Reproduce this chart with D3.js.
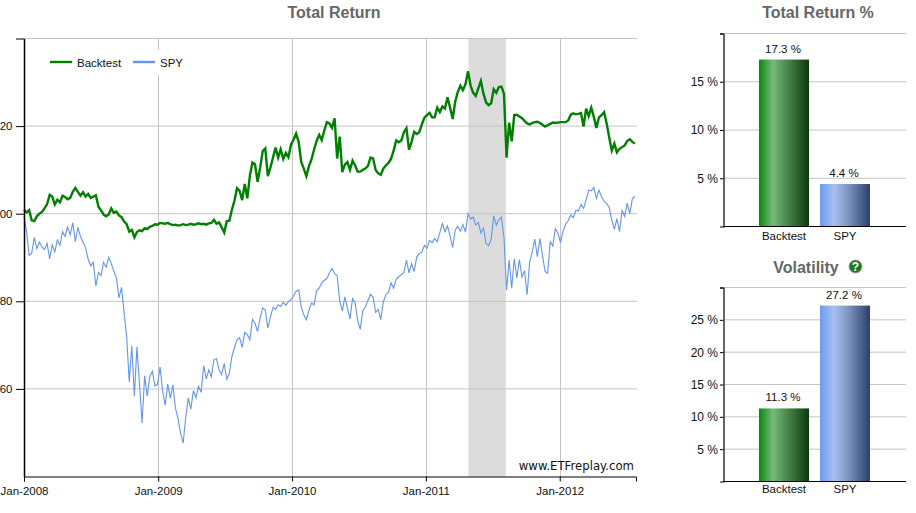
<!DOCTYPE html>
<html>
<head>
<meta charset="utf-8">
<script src="https://cdn.jsdelivr.net/npm/d3@7"></script>
<style>
    html, body { margin: 0; padding: 0; background: #fff; overflow: hidden; }
    text { font-family: "Liberation Sans", Arial, sans-serif; font-size: 11.5px; fill: #111; }
    .title { font-size: 16px; font-weight: bold; fill: #666; }
</style>
</head>
<body>
<div class="chart"></div>
<script>
// Weekly values from 2008-01-01 (10 per row)
const backtestValues = [
    100.9,100.3,100.8,98.5,98.3,99.4,100,100.4,101.2,102.2,
    104.3,103.9,102.1,103.2,102.6,104.1,103.8,103.3,103.6,105,
    105.9,105,104.1,104.9,103.9,104.5,103.6,103.9,104.2,101.6,
    100.8,99.8,99.4,99.8,101.2,100.2,100.5,99.6,99.2,98.2,
    97.6,95.9,96.3,94.6,95.8,96.2,96,96.7,96.5,97,
    97.2,97.6,97.5,97.9,97.8,97.7,97.9,97.6,97.4,97.5,
    97.3,97.4,97.6,97.4,97.5,97.7,97.5,97.6,97.8,97.6,
    97.7,97.5,97.8,97.9,98.6,97.7,98,96.9,95.7,98.3,
    98.4,100.9,103,105.8,105.2,103.1,106.8,103.5,108.7,111.7,
    111.3,107.3,110.5,114.3,114.9,108.6,110.5,112.8,115.1,112.8,
    114.7,112.5,113.9,112.9,115.7,116.9,118.3,116.4,111.8,110.3,
    108.6,110.8,112.4,114.6,116.6,118,116.8,119,120.9,120.6,
    119.6,121.8,112.6,117.6,109.5,111.2,111.8,110,112.1,111,
    109.6,109.6,110,110.3,110.9,112.8,112.6,110,109.2,108.9,
    110.3,111,111.6,112.5,114.4,116.7,116.3,116.7,118.6,119.5,
    114.6,116.4,118.7,118.2,118.6,120.4,121.9,122.5,123,122,
    122,124.2,123.2,124.5,124,126.6,124.2,121.6,125.6,127.8,
    129.2,128.2,129.6,132.5,129.2,127.6,126.9,128.6,130.3,127.4,
    125.4,124.8,125.2,128.4,127.6,128.9,129,127.4,112.8,120.8,
    116.5,122.5,122.6,122.2,121.8,121.2,120.6,120.4,120.7,120.9,
    121,120.7,120.3,119.9,120.2,120.5,120.8,120.7,120.8,120.9,
    120.9,120.9,121.3,122.6,122.9,122.7,122.8,123,119.9,124,
    122.3,124.2,122.1,119.6,122,122.5,123.2,120.6,117.4,114.4,
    116,114,114.8,115.2,115.6,116.6,117,116.4,116
];
const spyValues = [
    99.5,95.9,90.5,91,94.6,92,93.5,92.4,91.8,93.2,
    89.7,92.9,91.3,94,92.8,95.9,94.8,97,95.2,97.9,
    93.6,96.9,94.8,93.5,92.2,89.6,88.1,88.9,83.5,86.6,
    85.9,88.9,87.8,90,88.6,86.9,85.3,80.8,83.2,77.4,
    72,61.6,69.8,58.4,69.6,61,52.2,63,58.4,62.8,
    64,60.7,61,65,59.6,56.3,61.1,57.9,60.9,55.6,
    53.2,49.9,47.6,53.5,57.9,55.4,59.6,58,60.6,59.2,
    65.3,62.3,64.3,62.8,66.7,66.9,64.3,63.3,65.8,62.2,
    63.5,67.4,69.4,71.2,71.7,69.5,72.9,72.4,71.2,75.9,
    75,73.1,76.2,78.5,78,73.9,76.4,78.6,78.1,79.2,
    78.8,79.8,79.1,79.9,80.4,81.2,82.3,82.6,78.7,76.9,
    75.8,77.9,79.6,79.2,82.4,83,84.2,84.8,85.2,86.5,
    87.5,86.3,85.9,80.1,77.8,81,78.4,76,80.6,79.6,
    75.6,73.6,77.9,78.7,80.2,81.6,80.9,77.5,78.1,75.8,
    79.9,81.5,82.1,84.2,83,85,85.6,86.1,86.6,89.4,
    86.5,88.6,86.8,90.1,90.9,91.2,92.8,92.1,93.9,93.4,
    94.3,93.6,95.7,97.8,95.9,97.2,94.8,92.3,96.3,97.1,
    96,97.5,95.8,100,98.8,99.2,97.4,98,95.6,96.7,
    93.2,92.7,94.2,99.5,97.4,98.6,99.2,94.5,82.6,89.4,
    83,89.7,85.4,89.5,85.5,87,81.5,89,91.2,94.2,
    90.2,94.3,90.5,86.8,86.4,93.6,92.6,96.6,95.6,93.4,
    96,97.6,98.4,99.7,99.1,100.8,100.6,102.1,101.2,103.2,
    105.4,105.2,106,103.5,105.4,103.9,102.8,102.3,101.4,98.5,
    96.4,98.9,95.9,100.7,99.4,102.4,100,103.4,104
];

const parseDate = d3.timeParse("%Y-%m-%d");
const startDate = "2008-01-01";
const endDate = "2012-07-27";
const shadedRange = ["2011-04-27", "2011-08-07"];
const xTickDates = ["2008-01-01", "2009-01-01", "2010-01-01", "2011-01-01", "2012-01-01"];
const yTickValues = [40, 60, 80, 100, 120, 140];

const barNames = ["Backtest", "SPY"];
const totalReturn = [17.3, 4.4];
const volatility = [11.3, 27.2];
const returnTicks = [5, 10, 15, 20];
const volatilityTicks = [5, 10, 15, 20, 25, 30];

const green = "#008000", blue = "#6495ED", gridColor = "#c4c4c4";

const svg = d3
    .select(".chart")
    .append("svg")
    .attr("width", 916)
    .attr("height", 513);

// Bar gradients
const defs = svg.append("defs");
function addGradient(id, stops) {
    const grad = defs.append("linearGradient").attr("id", id);
    stops.forEach((s) => grad.append("stop").attr("offset", s[0]).attr("stop-color", s[1]));
}
addGradient("grad-Backtest", [["0%", "#068a0e"], ["28%", "#78b87a"], ["55%", "#4c8a50"], ["100%", "#0a3a0a"]]);
addGradient("grad-SPY", [["0%", "#6c9bf0"], ["28%", "#a6c0f0"], ["55%", "#7f97c4"], ["100%", "#2b3f68"]]);

// Main chart
const xScale = d3.scaleTime().domain([parseDate(startDate), parseDate(endDate)]).range([24, 636]);
const yScale = d3.scaleLinear().domain([40, 140]).range([476.5, 38.5]);

svg.append("text")
    .attr("class", "title")
    .attr("x", 334)
    .attr("y", 18)
    .attr("text-anchor", "middle")
    .text("Total Return");

svg.append("rect")
    .attr("x", xScale(parseDate(shadedRange[0])))
    .attr("y", yScale(140))
    .attr("width", xScale(parseDate(shadedRange[1])) - xScale(parseDate(shadedRange[0])))
    .attr("height", yScale(40) - yScale(140))
    .attr("fill", "#dcdcdc");

svg.selectAll(".hgrid")
    .data(yTickValues.slice(1))
    .enter()
    .append("line")
    .attr("x1", 24)
    .attr("x2", 637)
    .attr("y1", (d) => yScale(d))
    .attr("y2", (d) => yScale(d))
    .attr("stroke", gridColor);

svg.selectAll(".vgrid")
    .data(xTickDates.slice(1))
    .enter()
    .append("line")
    .attr("x1", (d) => Math.round(xScale(parseDate(d))) + 0.5)
    .attr("x2", (d) => Math.round(xScale(parseDate(d))) + 0.5)
    .attr("y1", yScale(140))
    .attr("y2", yScale(40))
    .attr("stroke", gridColor);

// Legend sits on a white box that hides the grid
svg.append("rect").attr("x", 42).attr("y", 50).attr("width", 148).attr("height", 25).attr("fill", "#fff");

const makeLine = d3.line()
    .x((d, i) => xScale(d3.timeDay.offset(parseDate(startDate), i * 7)))
    .y((d) => yScale(d));

svg.append("path")
    .attr("d", makeLine(spyValues))
    .attr("fill", "none")
    .attr("stroke", blue)
    .attr("stroke-width", 1.1);

svg.append("path")
    .attr("d", makeLine(backtestValues))
    .attr("fill", "none")
    .attr("stroke", green)
    .attr("stroke-width", 2.4);

[["Backtest", green, 50, 77], ["SPY", blue, 133, 160]].forEach((d) => {
    svg.append("line")
        .attr("x1", d[2]).attr("x2", d[2] + 22)
        .attr("y1", 62).attr("y2", 62)
        .attr("stroke", d[1]).attr("stroke-width", 2.4);
    svg.append("text").attr("x", d[3]).attr("y", 66.5).text(d[0]);
});

// Axes of the main chart
const xAxis = d3.axisBottom(xScale)
    .tickValues(xTickDates.map(parseDate))
    .tickFormat(d3.timeFormat("%b-%Y"))
    .tickSize(5)
    .tickPadding(5);
const xAxisG = svg.append("g").attr("transform", "translate(0,476.5)").call(xAxis);
xAxisG.select(".domain").attr("stroke", "#000");
xAxisG.selectAll("text").style("font-size", "11.5px").attr("font-family", null);

const yAxis = d3.axisLeft(yScale)
    .tickValues(yTickValues)
    .tickFormat((d) => (d == 40 || d == 140 ? "" : d))
    .tickSize(8)
    .tickSizeOuter(0)
    .tickPadding(3.5);
const yAxisG = svg.append("g").attr("transform", "translate(24,0)").call(yAxis);
yAxisG.select(".domain").attr("stroke", "#000").attr("stroke-width", 1.5);
yAxisG.selectAll(".tick").filter((d) => d == 40).select("line").remove();
yAxisG.selectAll("text").style("font-size", "11.5px").attr("font-family", null);

svg.append("text")
    .attr("x", 634)
    .attr("y", 470)
    .attr("text-anchor", "end")
    .style("font-family", "'DejaVu Sans', Verdana, sans-serif")
    .style("font-size", "11.7px")
    .text("www.ETFreplay.com");

// Small bar charts on the right
function drawBars(values, ticks, top, bottom, categoryY) {
    const yBar = d3.scaleLinear().domain([0, ticks[ticks.length - 1]]).range([bottom, top]);
    const xBar = d3.scaleBand().domain(barNames).range([759, 870]).paddingInner(0.18);

    svg.selectAll(null)
        .data(ticks)
        .enter()
        .append("line")
        .attr("x1", 724)
        .attr("x2", 906)
        .attr("y1", (d) => yBar(d))
        .attr("y2", (d) => yBar(d))
        .attr("stroke", gridColor);

    svg.selectAll(null)
        .data(barNames)
        .enter()
        .append("rect")
        .attr("x", (d) => xBar(d))
        .attr("y", (d, i) => yBar(values[i]))
        .attr("width", xBar.bandwidth())
        .attr("height", (d, i) => bottom - yBar(values[i]))
        .attr("fill", (d) => "url(#grad-" + d + ")");

    svg.selectAll(null)
        .data(barNames)
        .enter()
        .append("text")
        .attr("x", (d) => xBar(d) + xBar.bandwidth() / 2 - 1)
        .attr("y", (d, i) => yBar(values[i]) - 7)
        .attr("text-anchor", "middle")
        .text((d, i) => values[i].toFixed(1) + " %");

    const left = d3.axisLeft(yBar)
        .tickValues(ticks)
        .tickFormat((d) => (d == ticks[ticks.length - 1] ? "" : d + " %"))
        .tickSize(3.5)
        .tickSizeOuter(3.5)
        .tickPadding(2);
    const leftG = svg.append("g").attr("transform", "translate(723.5,0)").call(left);
    leftG.select(".domain").attr("stroke", "#000").attr("stroke-width", 1.2);
    leftG.selectAll("text").style("font-size", "12px").attr("font-family", null);

    svg.append("line")
        .attr("x1", 723).attr("x2", 906)
        .attr("y1", bottom).attr("y2", bottom)
        .attr("stroke", "#000");

    svg.selectAll(null)
        .data(barNames)
        .enter()
        .append("text")
        .attr("x", (d) => xBar(d) + xBar.bandwidth() / 2)
        .attr("y", categoryY)
        .attr("text-anchor", "middle")
        .text((d) => d);
}

svg.append("text")
    .attr("class", "title")
    .attr("x", 818)
    .attr("y", 18)
    .attr("text-anchor", "middle")
    .text("Total Return %");
drawBars(totalReturn, returnTicks, 33.5, 226.5, 240);

svg.append("text")
    .attr("class", "title")
    .attr("x", 806)
    .attr("y", 273)
    .attr("text-anchor", "middle")
    .text("Volatility");
drawBars(volatility, volatilityTicks, 287.5, 481.5, 493);

// Help icon next to Volatility
svg.append("circle")
    .attr("cx", 855.5)
    .attr("cy", 266.5)
    .attr("r", 6.5)
    .attr("fill", "#1f7a1f")
    .attr("stroke", "#9a9a9a");
svg.append("text")
    .attr("x", 855.5)
    .attr("y", 271)
    .attr("text-anchor", "middle")
    .style("font-size", "12px")
    .style("font-weight", "bold")
    .style("fill", "#fff")
    .text("?");
</script>
</body>
</html>
